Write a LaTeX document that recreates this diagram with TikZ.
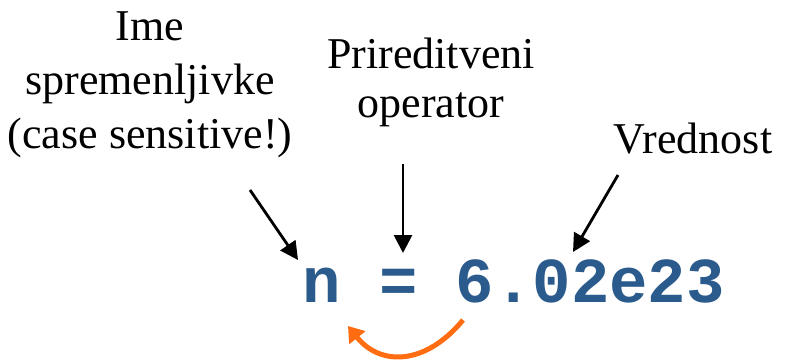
\documentclass[tikz,border=0pt]{standalone}
\usepackage{fontspec}
\setmainfont{Liberation Serif}
\newfontfamily\codefont{Liberation Mono}
\usetikzlibrary{arrows.meta}

\definecolor{codeblue}{RGB}{43,91,140}
\definecolor{swaporange}{RGB}{255,108,18}

\begin{document}
\begin{tikzpicture}[x=1pt, y=-1pt,
    every node/.style={inner sep=0pt},
    label/.style={font=\fontsize{44}{54}\selectfont, align=center, anchor=base},
    pointer/.style={line width=2.8pt, -{Triangle[length=18pt,width=18pt]}},
    swap/.style={swaporange, line width=5pt, -{Triangle[length=15pt,width=20pt]}}]
  \useasboundingbox (0,0) rectangle (800,362);
  % labels (anchored at the last baseline)
  \node[label] (ime)   at (150,148) {Ime\\spremenljivke\\(case sensitive!)};
  \node[label, font=\fontsize{44}{49}\selectfont] (oper) at (431,117) {Prireditveni\\operator};
  \node[label] (vred)  at (693,153) {Vrednost};
  % code line
  \node[anchor=base, font=\codefont\bfseries\fontsize{64}{64}\selectfont, text=codeblue]
    (code) at (513.5,302) {n = 6.02e23};
  % arrow ends
  \coordinate (imeA)  at (250,190);
  \coordinate (imeB)  at (298,260);
  \coordinate (operA) at (403,164);
  \coordinate (operB) at (403,253);
  \coordinate (vredA) at (618,175);
  \coordinate (vredB) at (573,252);
  \coordinate (valA)  at (463,320);
  \coordinate (nameB) at (348,326);
  \draw[pointer] (imeA) -- (imeB);
  \draw[pointer] (operA) -- (operB);
  \draw[pointer] (vredA) -- (vredB);
  \draw[swap] (valA) .. controls (425,366) and (380,366) .. (nameB);
\end{tikzpicture}
\end{document}
